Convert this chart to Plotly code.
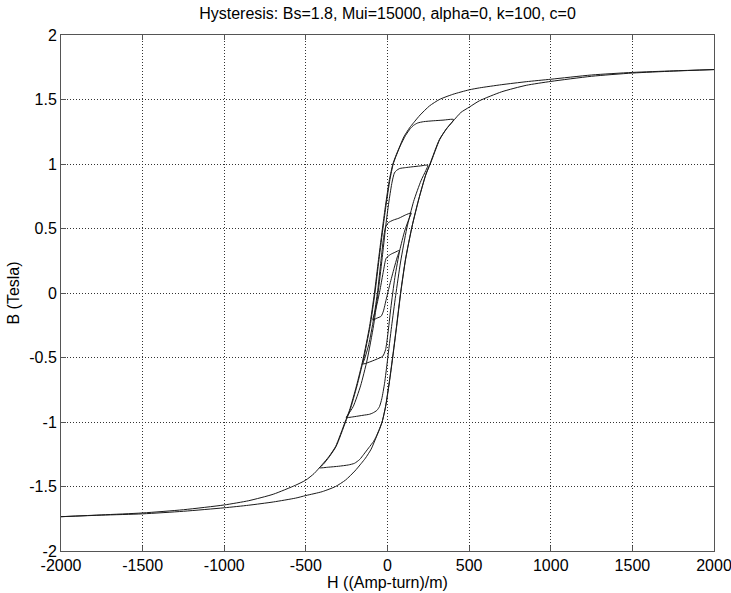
import plotly.graph_objects as go

# ---------------- data ----------------
title_text = "Hysteresis: Bs=1.8, Mui=15000, alpha=0, k=100, c=0"
x_label = "H ((Amp-turn)/m)"
y_label = "B (Tesla)"

x_tick_vals = [-2000, -1500, -1000, -500, 0, 500, 1000, 1500, 2000]
x_tick_text = ["-2000", "-1500", "-1000", "-500", "0", "500", "1000", "1500", "2000"]
y_tick_vals = [-2, -1.5, -1, -0.5, 0, 0.5, 1, 1.5, 2]
y_tick_text = ["-2", "-1.5", "-1", "-0.5", "0", "0.5", "1", "1.5", "2"]

# major loop, descending branch (H from +2000 to -2000)
desc_H = [2000, 1750, 1500, 1250, 1000, 850, 700, 563, 500, 400, 318, 257, 200, 160, 135, 100,
          73, 50, 33, 12, -12, -29, -55, -80, -110, -151, -190, -233, -260, -318, -360, -400,
          -450, -500, -563, -700, -850, -1000, -1250, -1500, -1750, -2000]
desc_B = [1.732, 1.722, 1.71, 1.69, 1.657, 1.638, 1.615, 1.59, 1.575, 1.54, 1.50, 1.45, 1.38, 1.32,
          1.28, 1.21, 1.13, 1.06, 1.00, 0.88, 0.68, 0.52, 0.26, 0.0, -0.26, -0.52, -0.72, -0.91,
          -1.0, -1.19, -1.27, -1.33, -1.40, -1.45, -1.49, -1.56, -1.61, -1.643, -1.68, -1.705,
          -1.72, -1.734]

# major loop, ascending branch (H from -2000 to +2000)
asc_H = [-2000, -1750, -1500, -1250, -1000, -850, -700, -563, -500, -400, -318, -257, -200, -160,
         -135, -100, -73, -50, -33, -12, 12, 29, 55, 80, 110, 151, 190, 233, 260, 318, 360, 400,
         450, 500, 563, 700, 850, 1000, 1250, 1500, 1750, 2000]
asc_B = [-1.734, -1.722, -1.712, -1.692, -1.665, -1.645, -1.62, -1.59, -1.57, -1.54, -1.50, -1.45,
         -1.38, -1.32, -1.28, -1.21, -1.13, -1.06, -1.0, -0.88, -0.68, -0.52, -0.26, 0.0, 0.26,
         0.52, 0.72, 0.91, 1.0, 1.19, 1.27, 1.33, 1.40, 1.44, 1.49, 1.56, 1.61, 1.64, 1.68, 1.705,
         1.72, 1.732]

# minor loop A (tips near H=+405 / -417)
loopA_H = [405, 340, 280, 220, 185, 160, 140, 110, 78, 52, 35, 15, -9, -26, -52, -77, -107, -148,
           -187, -230, -257, -315, -357, -395, -417,
           -360, -300, -240, -202, -170, -145, -115, -85, -72, -48, -31, -10, 14, 31, 57, 82, 112,
           153, 192, 235, 262, 320, 362, 405]
loopA_B = [1.345, 1.34, 1.335, 1.328, 1.318, 1.30, 1.275, 1.22, 1.14, 1.06, 1.0, 0.88, 0.68, 0.52,
           0.26, 0.0, -0.26, -0.52, -0.72, -0.91, -1.0, -1.19, -1.27, -1.33, -1.355,
           -1.35, -1.343, -1.333, -1.32, -1.29, -1.25, -1.2, -1.15, -1.12, -1.05, -0.99, -0.87,
           -0.67, -0.51, -0.25, 0.01, 0.27, 0.53, 0.73, 0.92, 1.0, 1.19, 1.275, 1.345]

# minor loop B (tips near H=+247 / -253)
loopB_H = [247, 200, 150, 110, 75, 55, 42, 28, 10, -8, -30, -55, -85, -125, -165, -210, -240, -253,
           -200, -150, -110, -90, -65, -49, -35, -18, 0, 25, 50, 80, 118, 160, 205, 235, 247]
loopB_B = [0.99, 0.985, 0.978, 0.972, 0.965, 0.95, 0.93, 0.86, 0.72, 0.55, 0.3, 0.03, -0.25, -0.52,
           -0.72, -0.88, -0.94, -0.965,
           -0.958, -0.948, -0.94, -0.93, -0.91, -0.88, -0.82, -0.7, -0.52, -0.26, -0.02, 0.24,
           0.5, 0.71, 0.87, 0.95, 0.99]

# minor loop C (tips near H=+145 / -151)
loopC_H = [145, 110, 70, 35, 5, -12, -25, -40, -60, -85, -115, -140, -151,
           -110, -70, -29, -12, 2, 20, 45, 75, 105, 130, 145]
loopC_B = [0.62, 0.605, 0.58, 0.565, 0.545, 0.51, 0.42, 0.25, 0.02, -0.2, -0.4, -0.51, -0.55,
           -0.535, -0.515, -0.49, -0.44, -0.32, -0.12, 0.12, 0.33, 0.48, 0.57, 0.62]

# minor loop D (tips near H=+73 / -90)
loopD_H = [73, 45, 20, -8, -25, -45, -65, -80, -90,
           -65, -39, -25, -8, 15, 40, 60, 73]
loopD_B = [0.33, 0.315, 0.3, 0.27, 0.17, 0.03, -0.09, -0.16, -0.21,
           -0.195, -0.18, -0.14, -0.05, 0.07, 0.19, 0.28, 0.33]

# ---------------- figure ----------------
line_style = dict(color="#1a1a1a", width=1, shape="spline", smoothing=0.6)
fig = go.Figure()
for hx, by in [(desc_H, desc_B), (asc_H, asc_B), (loopA_H, loopA_B),
               (loopB_H, loopB_B), (loopC_H, loopC_B), (loopD_H, loopD_B)]:
    fig.add_trace(go.Scatter(x=hx, y=by, mode="lines", line=line_style,
                             hoverinfo="skip", showlegend=False))

FS = 16
axis_common = dict(
    showgrid=True, gridcolor="#333", gridwidth=1, griddash="1px,2px",
    showline=True, mirror="ticks", linecolor="#555", linewidth=1,
    ticks="inside", ticklen=5, tickcolor="#555", zeroline=False,
    automargin=False, ticklabeloverflow="allow",
    tickfont=dict(size=FS, color="black"),
)

fig.update_layout(
    width=731, height=593,
    margin=dict(l=61, r=17, t=35, b=42, autoexpand=False),
    paper_bgcolor="white", plot_bgcolor="white",
    font=dict(family="Liberation Sans, Arial, sans-serif", size=FS, color="black"),
    showlegend=False,
    hovermode=False,
    title=dict(text=title_text, x=0.5, xref="paper", xanchor="center",
               y=1 - 13 / 593, yref="container", yanchor="middle",
               font=dict(size=FS, color="black")),
    xaxis=dict(range=[-2000, 2000], tickvals=x_tick_vals, ticktext=x_tick_text,
               title=dict(text=x_label, standoff=0, font=dict(size=FS)), **axis_common),
    yaxis=dict(range=[-2, 2], tickvals=y_tick_vals, ticktext=y_tick_text,
               title=dict(text=y_label, standoff=5, font=dict(size=FS)), **axis_common),
)

fig.write_html(
    "out.html",
    config={"displayModeBar": False, "staticPlot": True},
    post_script="document.body.style.margin='0';document.body.style.padding='0';",
)
